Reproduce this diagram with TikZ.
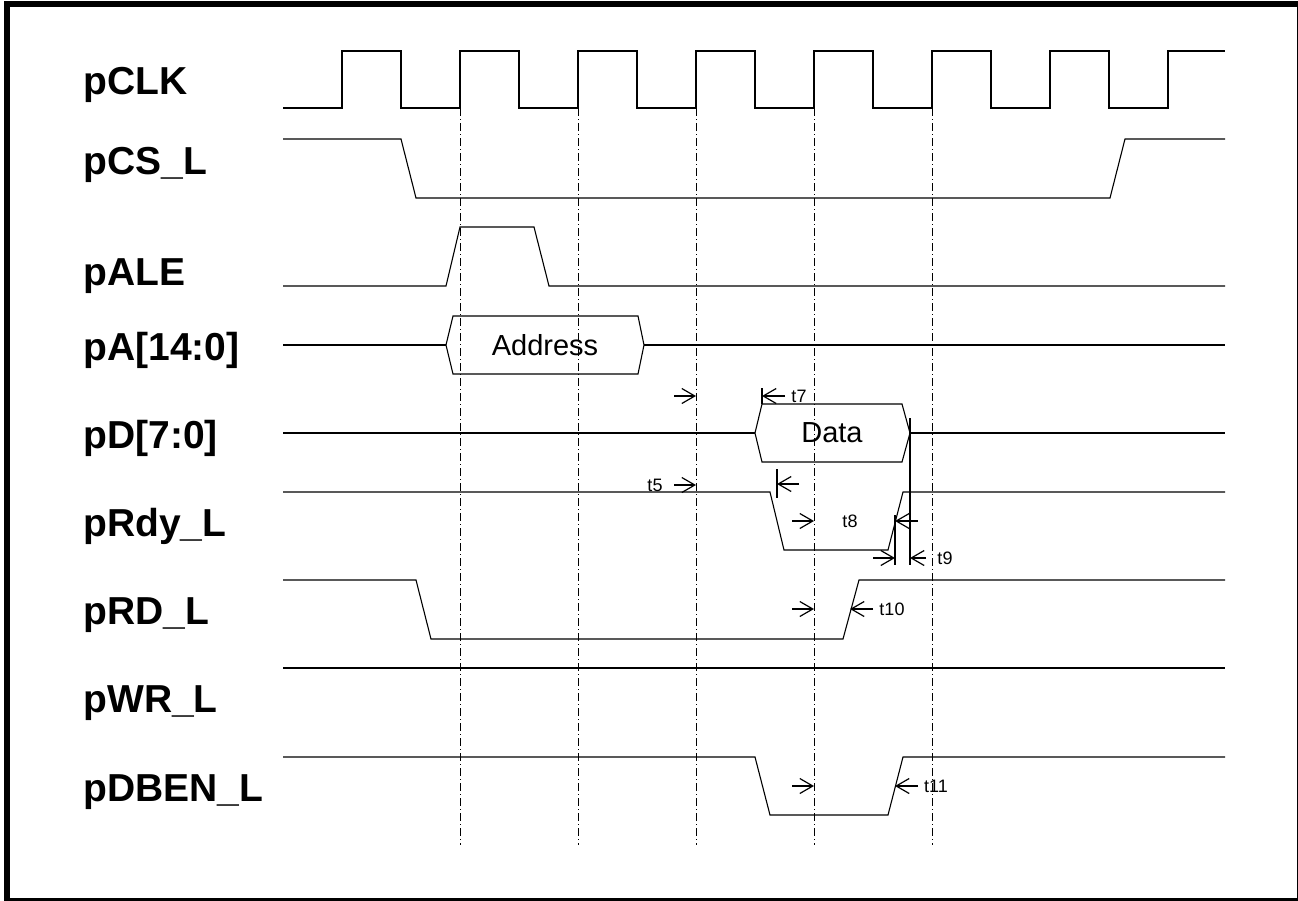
\documentclass[tikz,border=0pt]{standalone}
\usepackage{fontspec}
\setmainfont{Liberation Sans}
\usetikzlibrary{arrows.meta}

\begin{document}
\begin{tikzpicture}[
        x=0.5pt, y=-0.5pt, line join=miter,
        wave/.style={line width=0.55pt},
        guide/.style={line width=0.5pt, dash pattern=on 4pt off 1.5pt on 0.5pt off 1.5pt},
        tarrow/.style={line width=0.6pt, -{Straight Barb[length=6.5pt,width=7.5pt]}},
        sig/.style={anchor=base west, inner sep=0pt, font=\fontsize{19.5}{23}\selectfont\bfseries},
        bus/.style={inner sep=0pt, font=\fontsize{14.5}{17}\selectfont},
        tlab/.style={inner sep=0pt, font=\fontsize{9}{11}\selectfont},
    ]
    \useasboundingbox (0,0) rectangle (1298,901);
    \draw[line width=3pt] (7,4) rectangle (1300,901);

    % signal names
    \foreach \n/\t/\y in {clk/pCLK/94, cs/pCS\_L/174, ale/pALE/285,
            addr/pA[14:0]/360, data/pD[7:0]/448, rdy/pRdy\_L/536,
            rd/pRD\_L/624, wr/pWR\_L/712, dben/pDBEN\_L/801}
        \node[sig] (l-\n) at (83,\y) {\t};

    % clock edges
    \foreach \x in {460, 578, ..., 932}
        \draw[guide] (\x,108) -- (\x,845);

    \draw[wave] (283,108) foreach \k in {0,...,6} {
            -- ({342+118*\k},108) -- ({342+118*\k},51)
            -- ({401+118*\k},51) -- ({401+118*\k},108)}
        -- (1168,108) -- (1168,51) -- (1225,51);

    \draw[wave] (283,139) -- (401,139) -- (416,198) -- (1110,198) -- (1125,139) -- (1225,139);
    \draw[wave] (283,286) -- (446,286) -- (460,227) -- (534,227) -- (549,286) -- (1225,286);

    \draw[wave] (283,345) -- (446,345);
    \draw[wave] (446,345) -- (453,316) -- (638,316) -- (644,345)
        -- (638,374) -- (453,374) -- cycle;
    \draw[wave] (644,345) -- (1225,345);
    \node[bus] (addr) at (545,345) {Address};

    \draw[wave] (283,433) -- (755,433);
    \draw[wave] (755,433) -- (762,404) -- (902,404) -- (910,433)
        -- (902,462) -- (762,462) -- cycle;
    \draw[wave] (910,433) -- (1225,433);
    \node[bus] (data) at (832,433) {Data};

    \draw[wave] (283,492) -- (770,492) -- (784,550) -- (888,550) -- (903,492) -- (1225,492);
    \draw[wave] (283,580) -- (416,580) -- (431,639) -- (843,639) -- (859,580) -- (1225,580);
    \draw[wave] (283,668) -- (1225,668);
    \draw[wave] (283,757) -- (755,757) -- (770,815) -- (888,815) -- (903,757) -- (1225,757);

    % timing
    \draw[tarrow] (674,396) -- (696,396);
    \draw[tarrow] (674,485) -- (696,485);
    \node[tlab] (t5) at (655,485) {t5};

    \draw[wave] (762,388) -- (762,404);
    \draw[tarrow] (785,396) -- (762,396);
    \node[tlab] (t7) at (799,396) {t7};
    \draw[wave] (777,469) -- (777,498);
    \draw[tarrow] (799,484) -- (777,484);

    \draw[tarrow] (792,521) -- (814,521);
    \node[tlab] (t8) at (850,521) {t8};
    \draw[wave] (895,515) -- (895,565);
    \draw[tarrow] (918,521) -- (895,521);

    \draw[tarrow] (873,558) -- (895,558);
    \draw[line width=1pt] (910,418) -- (910,565);
    \draw[tarrow] (926,558) -- (910,558);
    \node[tlab] (t9) at (945,558) {t9};

    \draw[tarrow] (792,609) -- (814,609);
    \draw[tarrow] (873,609) -- (850,609);
    \node[tlab] (t10) at (892,609) {t10};

    \draw[tarrow] (792,786) -- (814,786);
    \draw[tarrow] (918,786) -- (895,786);
    \node[tlab] (t11) at (936,786) {t11};
\end{tikzpicture}
\end{document}
